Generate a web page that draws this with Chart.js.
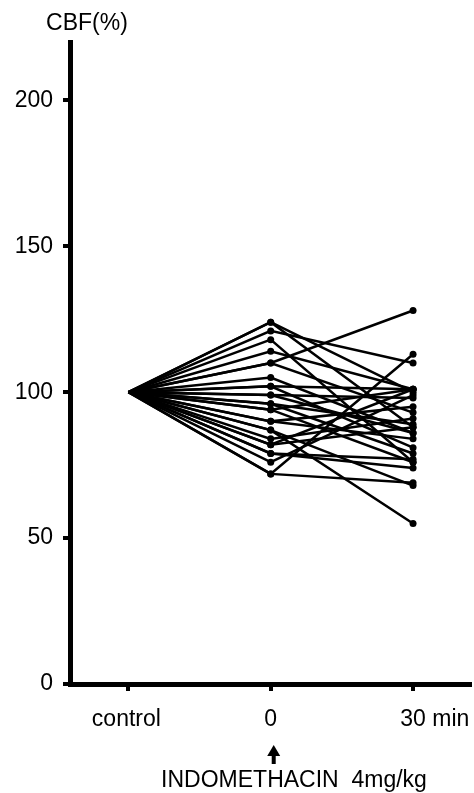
<!DOCTYPE html>
<html>
<head>
<meta charset="utf-8">
<script src="https://cdn.jsdelivr.net/npm/chart.js@4.4.0/dist/chart.umd.min.js"></script>
<style>
  html, body { margin: 0; padding: 0; background: #fff; }
  #wrap { width: 474px; height: 793px; position: relative; }
</style>
</head>
<body>
<div id="wrap"><canvas id="cbf-chart"></canvas></div>
<script>
// time points: control, 0, 30 min
const xPositions = [0, 1, 2];
const xLabels = ['control', '0', '30 min'];
const controlValue = 100;
// CBF (%) of each animal at 0 and 30 min after indomethacin
const t0Values  = [124, 124, 121, 118, 114, 110, 110, 105, 102, 102, 99, 99, 96, 96, 94, 94, 90, 90, 87, 87, 84, 82, 82, 79, 79, 76, 72, 72];
const t30Values = [100, 88, 110, 76, 101, 128, 93, 86, 101, 81, 98, 86, 79, 89, 101, 76, 84, 95, 55, 68, 91, 101, 88, 74, 77, 99, 113, 69];
const yTicks = [0, 50, 100, 150, 200];

const FONT = "'Liberation Sans', Arial, Helvetica, sans-serif";

const datasets = t0Values.map(function(v, i) {
    return {
        data: [
            { x: xPositions[0], y: controlValue },
            { x: xPositions[1], y: v },
            { x: xPositions[2], y: t30Values[i] }
        ],
        borderColor: '#000',
        backgroundColor: '#000',
        borderWidth: 2.5,
        pointRadius: [0, 3.5, 3.5],
        pointBackgroundColor: '#000',
        pointBorderWidth: 0,
        tension: 0
    };
});

// text and the arrow around the plot
const annotations = {
    id: 'annotations',
    afterDraw: function(chart) {
        const c = chart.ctx;
        const xs = chart.scales.x;
        c.save();
        c.fillStyle = '#000';
        c.strokeStyle = '#000';
        c.font = '23px ' + FONT;
        c.textBaseline = 'middle';

        c.textAlign = 'center';
        c.fillText('CBF(%)', 87, 24);

        // x labels
        c.fillText(xLabels[0], xs.getPixelForValue(xPositions[0]) - 2, 720);
        c.fillText(xLabels[1], xs.getPixelForValue(xPositions[1]), 720);
        c.textAlign = 'left';
        const w30 = c.measureText('30').width;
        c.fillText(xLabels[2], xs.getPixelForValue(xPositions[2]) - w30 / 2, 720);

        // arrow
        const ax = xs.getPixelForValue(xPositions[1]) + 3;
        c.lineWidth = 4;
        c.beginPath();
        c.moveTo(ax, 764);
        c.lineTo(ax, 752);
        c.stroke();
        c.beginPath();
        c.moveTo(ax, 745);
        c.lineTo(ax - 6.5, 756);
        c.lineTo(ax + 6.5, 756);
        c.closePath();
        c.fill();

        c.textAlign = 'center';
        c.fillText('INDOMETHACIN  4mg/kg', 294, 781);
        c.restore();
    }
};

new Chart(document.getElementById('cbf-chart'), {
    type: 'line',
    data: { datasets: datasets },
    options: {
        responsive: true,
        maintainAspectRatio: false,
        animation: false,
        layout: { padding: { top: 42, right: 4, left: 0, bottom: 0 } },
        plugins: {
            legend: { display: false },
            tooltip: { enabled: false }
        },
        scales: {
            x: {
                type: 'linear',
                min: -0.41,
                max: 2.4,
                afterBuildTicks: function(s) { s.ticks = xPositions.map(v => ({ value: v })); },
                afterFit: function(s) { s.height = 109; },
                border: { display: true, color: '#000', width: 5 },
                grid: { display: true, drawOnChartArea: false, drawTicks: true, tickLength: 7, lineWidth: 4, color: '#000' },
                ticks: { display: false }
            },
            y: {
                min: 0,
                max: 220,
                afterBuildTicks: function(s) { s.ticks = yTicks.map(v => ({ value: v })); },
                afterFit: function(s) { s.width = 70; },
                border: { display: true, color: '#000', width: 5 },
                grid: { display: true, drawOnChartArea: false, drawTicks: true, tickLength: 7, lineWidth: 4, color: '#000' },
                ticks: {
                    color: '#000',
                    padding: 10,
                    font: { family: FONT, size: 23 }
                }
            }
        }
    },
    plugins: [annotations]
});
</script>
</body>
</html>
